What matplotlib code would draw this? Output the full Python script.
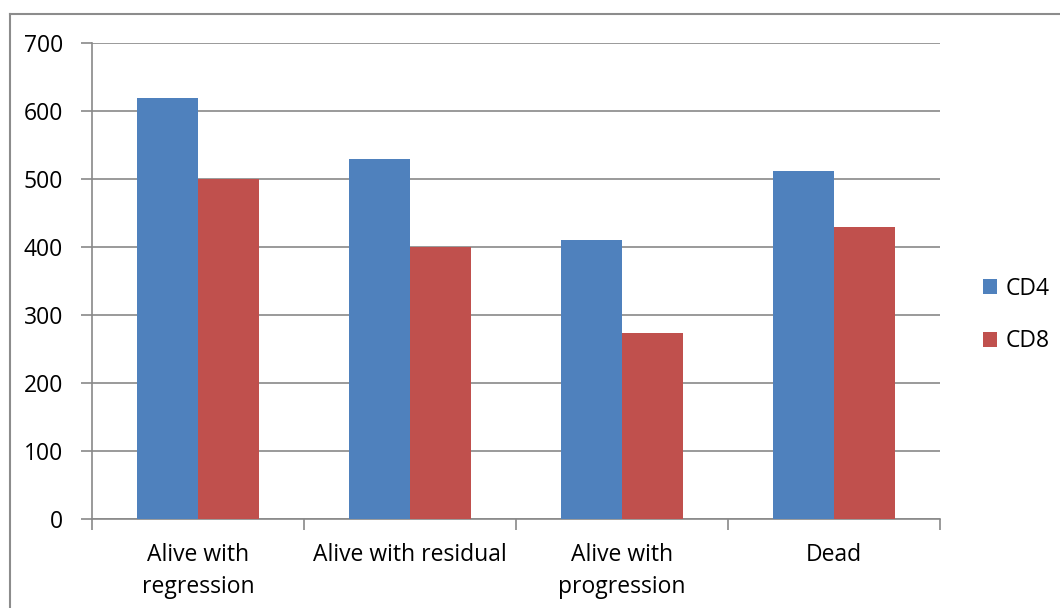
import matplotlib.pyplot as plt
import numpy as np
from matplotlib.lines import Line2D

# data
categories = ["Alive with\nregression", "Alive with residual", "Alive with\nprogression", "Dead"]
cd4 = [619, 529, 411, 512]
cd8 = [500, 400, 273, 430]
series_names = ["CD4", "CD8"]

W, H = 1060, 608
fig = plt.figure(figsize=(W / 100, H / 100), dpi=100)
plt.rcParams['font.family'] = ['Open Sans', 'DejaVu Sans']
FS = 16.5

# plot area in pixels: x 92..940, y 43..519
ax = fig.add_axes([92 / W, 1 - 519 / H, (940 - 92) / W, (519 - 43) / H])

x = np.arange(len(categories))
bw = 1 / 3.5
ax.bar(x - bw / 2, cd4, bw, color="#4F81BD", label=series_names[0], zorder=3)
ax.bar(x + bw / 2, cd8, bw, color="#C0504D", label=series_names[1], zorder=3)

ax.set_xlim(-0.5, len(categories) - 0.5)
ax.set_ylim(0, 700)
ax.set_yticks(range(0, 701, 100))
ax.yaxis.grid(True, color="#898989", linewidth=1.2, zorder=0)

ax.set_xticks(np.arange(-0.5, len(categories), 1))
ax.set_xticklabels([])
ax.set_xticks(x, minor=True)
ax.set_xticklabels(categories, minor=True)
ax.tick_params(axis="x", which="minor", length=0, pad=17, labelsize=FS)
ax.tick_params(axis="x", which="major", length=8, color="#898989", width=1.2)
ax.tick_params(axis="y", length=8, color="#898989", width=1.2, pad=13, labelsize=FS)
for lbl in ax.get_xticklabels(minor=True):
    lbl.set_linespacing(1.45)

for s in ["top", "right"]:
    ax.spines[s].set_visible(False)
for s in ["left", "bottom"]:
    ax.spines[s].set_color("#898989")
    ax.spines[s].set_linewidth(1.2)

# outer chart border (left and top only visible)
fig.add_artist(Line2D([10 / W, 10 / W], [0, 1 - 14 / H], transform=fig.transFigure, color="#8c8c8c", lw=1.5))
fig.add_artist(Line2D([10 / W, 1], [1 - 14 / H, 1 - 14 / H], transform=fig.transFigure, color="#8c8c8c", lw=1.5))

ax.legend(loc="center left", bbox_to_anchor=(972 / W, 1 - 315 / H), bbox_transform=fig.transFigure,
          frameon=False, fontsize=FS, handlelength=0.6, handleheight=0.6, handletextpad=0.35,
          labelspacing=1.25, borderpad=0)

fig.savefig("out.png", dpi=100)
